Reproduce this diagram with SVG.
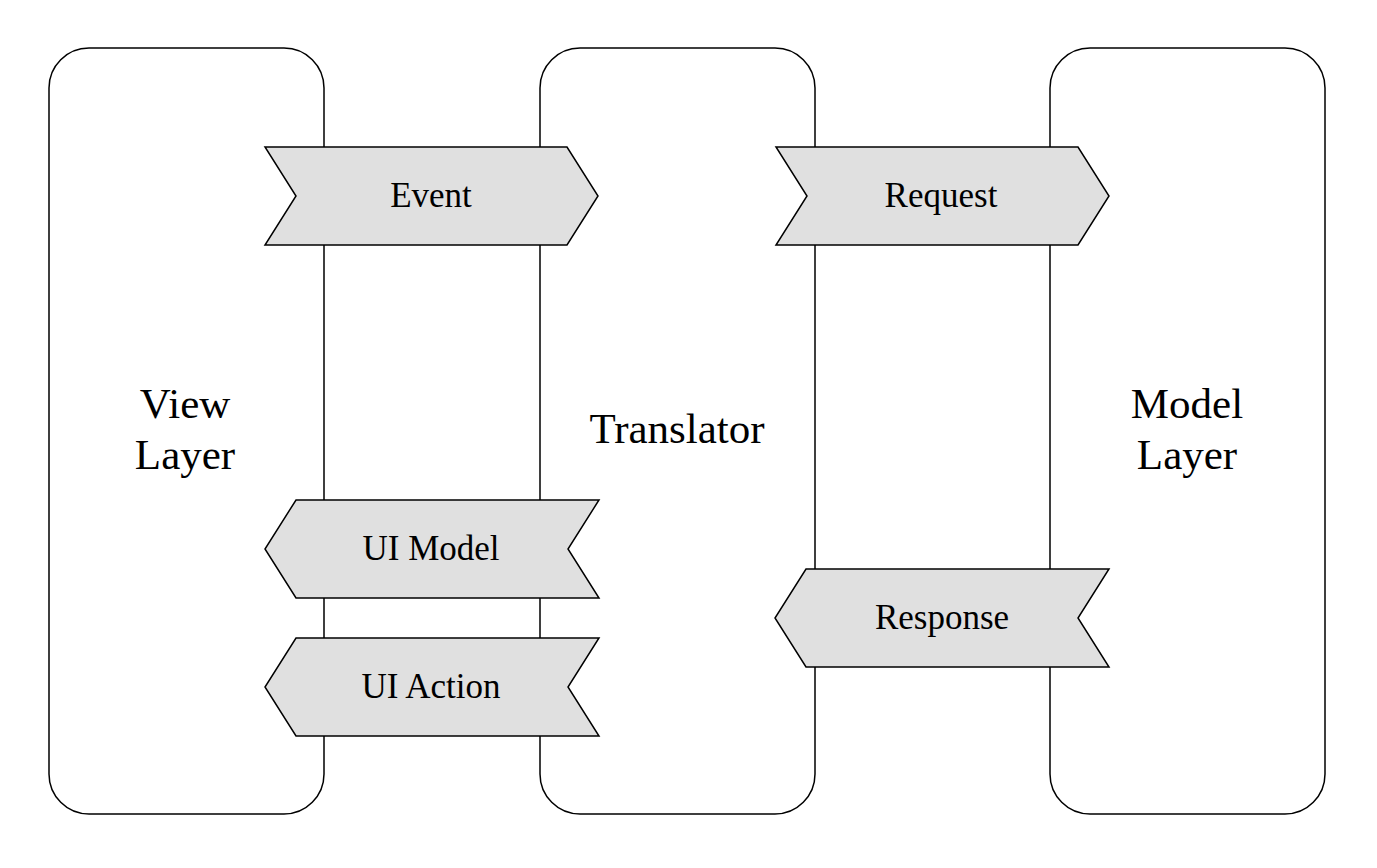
<svg xmlns="http://www.w3.org/2000/svg" width="1377" height="868" viewBox="0 0 1377 868">
<style>
.box{fill:#fff;stroke:#000;stroke-width:1.5}
.arr{fill:#e0e0e0;stroke:#000;stroke-width:1.5;stroke-linejoin:miter}
.lbl{font-family:"Liberation Serif","Times New Roman",serif;font-size:35px;fill:#000;text-anchor:middle}
.ttl{font-family:"Liberation Serif","Times New Roman",serif;font-size:43px;fill:#000;text-anchor:middle}
</style>
<rect width="1377" height="868" fill="#fff"/>
<g id="view-layer">
<rect class="box" x="49" y="48" width="275" height="766" rx="40" ry="40"/>
<text class="ttl" x="185" y="418">View</text>
<text class="ttl" x="185" y="469">Layer</text>
</g>
<g id="translator">
<rect class="box" x="540" y="48" width="275" height="766" rx="40" ry="40"/>
<text class="ttl" x="677" y="443">Translator</text>
</g>
<g id="model-layer">
<rect class="box" x="1050" y="48" width="275" height="766" rx="40" ry="40"/>
<text class="ttl" x="1187" y="418">Model</text>
<text class="ttl" x="1187" y="469">Layer</text>
</g>
<g id="connectors">
<g id="event">
<polygon class="arr" points="265,147 567,147 598,196 567,245 265,245 296,196"/>
<text class="lbl" x="431" y="207">Event</text>
</g>
<g id="request">
<polygon class="arr" points="776,147 1078,147 1109,196 1078,245 776,245 807,196"/>
<text class="lbl" x="941" y="207">Request</text>
</g>
<g id="ui-model">
<polygon class="arr" points="296,500 599,500 568,549 599,598 296,598 265,549"/>
<text class="lbl" x="431" y="560">UI Model</text>
</g>
<g id="ui-action">
<polygon class="arr" points="296,638 599,638 568,687 599,736 296,736 265,687"/>
<text class="lbl" x="431" y="698">UI Action</text>
</g>
<g id="response">
<polygon class="arr" points="806,569 1109,569 1078,618 1109,667 806,667 775,618"/>
<text class="lbl" x="942" y="629">Response</text>
</g>
</g>
</svg>
